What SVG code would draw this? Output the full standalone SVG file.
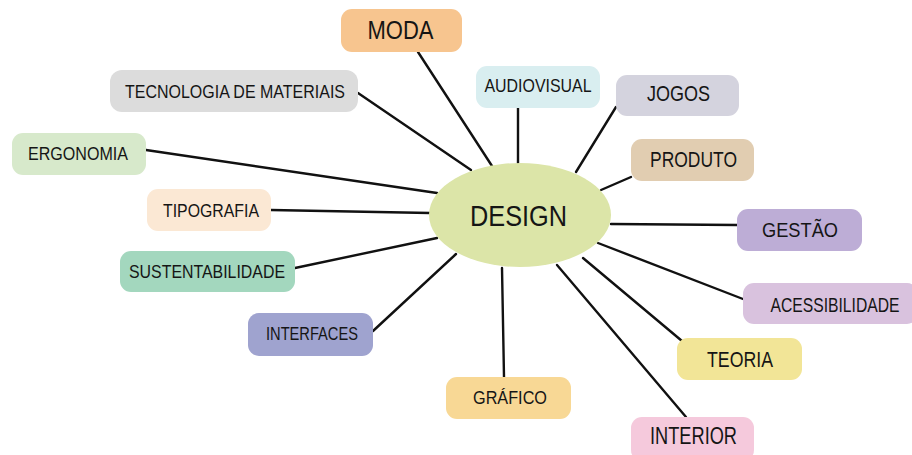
<svg xmlns="http://www.w3.org/2000/svg" width="912" height="455" viewBox="0 0 912 455">
  <style>
    .box { stroke: none; }
    .lbl { font-family: "Liberation Sans", Arial, sans-serif; fill: #151515; text-anchor: middle; }
    #links line { stroke: #111; stroke-width: 2.4; stroke-linecap: round; }
  </style>
  <rect width="912" height="455" fill="#ffffff"/>

  <!-- connectors from the central node -->
  <g id="links">
    <line x1="418" y1="52" x2="492" y2="166"/>
    <line x1="358" y1="93" x2="471" y2="170"/>
    <line x1="146" y1="150" x2="437" y2="193"/>
    <line x1="271" y1="210" x2="430" y2="213"/>
    <line x1="295" y1="268" x2="437" y2="238"/>
    <line x1="373" y1="331" x2="456" y2="254"/>
    <line x1="504" y1="377" x2="502" y2="268"/>
    <line x1="686" y1="417" x2="557" y2="265"/>
    <line x1="682" y1="341" x2="583" y2="258"/>
    <line x1="743" y1="299" x2="598" y2="243"/>
    <line x1="737" y1="225" x2="611" y2="224"/>
    <line x1="631" y1="177" x2="601" y2="190"/>
    <line x1="616" y1="107" x2="576" y2="172"/>
    <line x1="518" y1="108" x2="518" y2="163"/>
  </g>

  <g id="design">
    <ellipse cx="520" cy="215" rx="91" ry="52" fill="#dce5a8"/>
    <text class="lbl" x="518.5" y="226" font-size="29" textLength="97" lengthAdjust="spacingAndGlyphs">DESIGN</text>
  </g>

  <g id="moda">
    <rect class="box" x="341" y="9" width="121" height="43" rx="11" fill="#f7c58f"/>
    <text class="lbl" x="400.5" y="39" font-size="25" textLength="66" lengthAdjust="spacingAndGlyphs">MODA</text>
  </g>

  <g id="audiovisual">
    <rect class="box" x="476" y="66" width="124" height="42" rx="11" fill="#d9eef0"/>
    <text class="lbl" x="538" y="91.5" font-size="19" textLength="107" lengthAdjust="spacingAndGlyphs">AUDIOVISUAL</text>
  </g>

  <g id="tecnologia">
    <rect class="box" x="110" y="70" width="248" height="42" rx="12" fill="#dcdcdc"/>
    <text class="lbl" x="235" y="97.5" font-size="17.7" textLength="220" lengthAdjust="spacingAndGlyphs">TECNOLOGIA DE MATERIAIS</text>
  </g>

  <g id="ergonomia">
    <rect class="box" x="12" y="133" width="134" height="42" rx="11" fill="#d7e9cb"/>
    <text class="lbl" x="78" y="160" font-size="17.7" textLength="100" lengthAdjust="spacingAndGlyphs">ERGONOMIA</text>
  </g>

  <g id="tipografia">
    <rect class="box" x="147" y="189" width="124" height="42" rx="11" fill="#fbe8d4"/>
    <text class="lbl" x="211" y="217" font-size="18.6" textLength="96" lengthAdjust="spacingAndGlyphs">TIPOGRAFIA</text>
  </g>

  <g id="sustentabilidade">
    <rect class="box" x="120" y="251" width="175" height="41" rx="11" fill="#a3d7be"/>
    <text class="lbl" x="207" y="278" font-size="18.6" textLength="156" lengthAdjust="spacingAndGlyphs">SUSTENTABILIDADE</text>
  </g>

  <g id="interfaces">
    <rect class="box" x="248" y="313" width="125" height="43" rx="11" fill="#9fa3cf"/>
    <text class="lbl" x="312" y="340" font-size="18.6" textLength="92" lengthAdjust="spacingAndGlyphs">INTERFACES</text>
  </g>

  <g id="grafico">
    <rect class="box" x="446" y="377" width="125" height="42" rx="11" fill="#f8d895"/>
    <text class="lbl" x="510" y="404" font-size="18.6" textLength="74" lengthAdjust="spacingAndGlyphs">GRÁFICO</text>
  </g>

  <g id="interior">
    <rect class="box" x="631" y="417" width="123" height="44" rx="11" fill="#f5c9dc"/>
    <text class="lbl" x="693.5" y="444" font-size="23.5" textLength="87" lengthAdjust="spacingAndGlyphs">INTERIOR</text>
  </g>

  <g id="teoria">
    <rect class="box" x="677" y="338" width="125" height="42" rx="11" fill="#f2e597"/>
    <text class="lbl" x="740" y="366.5" font-size="22" textLength="66" lengthAdjust="spacingAndGlyphs">TEORIA</text>
  </g>

  <g id="acessibilidade">
    <rect class="box" x="743" y="283" width="175" height="41" rx="11" fill="#d9c2de"/>
    <!-- narrow label: squeezed horizontally so it stays inside the canvas -->
    <text class="lbl" transform="translate(835 311.5) scale(0.785 1)" x="0" y="0" font-size="20">ACESSIBILIDADE</text>
  </g>

  <g id="gestao">
    <rect class="box" x="737" y="209" width="125" height="42" rx="11" fill="#bdadd6"/>
    <text class="lbl" x="800" y="236.5" font-size="21" textLength="76" lengthAdjust="spacingAndGlyphs">GESTÃO</text>
  </g>

  <g id="produto">
    <rect class="box" x="631" y="139" width="123" height="42" rx="11" fill="#e1cdb1"/>
    <text class="lbl" x="693.5" y="167" font-size="22" textLength="87" lengthAdjust="spacingAndGlyphs">PRODUTO</text>
  </g>

  <g id="jogos">
    <rect class="box" x="616" y="75" width="123" height="41" rx="11" fill="#d4d3de"/>
    <text class="lbl" x="678.5" y="100.5" font-size="22" textLength="63" lengthAdjust="spacingAndGlyphs">JOGOS</text>
  </g>
</svg>
